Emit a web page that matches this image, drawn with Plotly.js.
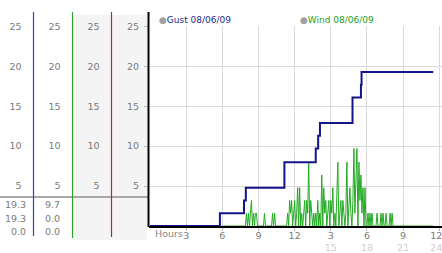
<!DOCTYPE html>
<html><head><meta charset="utf-8">
<script src="https://cdn.plot.ly/plotly-3.0.1.min.js"></script>
<style>html,body{margin:0;padding:0;background:#fff}#c{width:442px;height:253px}</style>
</head><body><div id="c"></div>
<script>
// ---- data ----
const seriesNames = ['Gust 08/06/09', 'Wind 08/06/09'];
const gustT = [0, 5.8, 7.8, 7.95, 11.15, 13.75, 13.95, 14.1, 16.8, 17.5, 17.55, 23.5];
const gustV = [0, 1.6, 3.2, 4.8, 8.0, 9.7, 11.3, 12.9, 16.1, 17.7, 19.3, 19.3];
const windStartHour = 6, windStepMinutes = 5, windEndHour = 23.5;
const windV = [
  0,0,0,0,0,0,0,0,0,0,
  0,0,0,0,0,0,0,0,0,0,
  0,0,0,0,1.6,0,1.6,0,1.6,3.2,
  0,1.6,0,1.6,1.6,0,0,0,0,0,
  0,0,1.6,0,0,0,0,0,0,0,
  1.6,0,1.6,0,0,0,0,0,0,0,
  0,0,0,0,0,1.6,0,3.2,1.6,3.2,
  0,1.6,3.2,0,1.6,4.8,0,4.8,0,1.6,
  0,1.6,3.2,0,3.2,1.6,8.0,0,3.2,1.6,
  0,1.6,0,1.6,0,3.2,0,1.6,0,6.4,
  0,4.8,1.6,3.2,0,1.6,3.2,0,3.2,1.6,
  4.8,0,1.6,0,3.2,8.0,0,1.6,3.2,0,
  3.2,1.6,0,1.6,8.0,0,3.2,4.8,1.6,0,
  3.2,9.7,1.6,4.8,9.7,0,8.0,3.2,6.4,1.6,
  4.8,0,4.8,0,0,1.6,0,1.6,0,1.6,
  0,0,0,0,1.6,0,0,0,1.6,0,
  1.6,0,0,1.6,0,0,0,1.6,0,1.6,
  0];
const windT = windV.map((v, i) => windStartHour + i * windStepMinutes / 60).concat([windEndHour]);
const windY = windV.concat([0]);
const yTicks = [5, 10, 15, 20, 25];
const xTicks = [3, 6, 9, 12, 15, 18, 21, 24];
const xTickTop = ['3', '6', '9', '12', '3', '6', '9', '12'];
const xTickBottom = ['', '', '', '', '15', '18', '21', '24'];
const gustStats = ['19.3', '19.3', '0.0'];
const windStats = ['9.7', '0.0', '0.0'];

// ---- layout helpers ----
const W = 442, H = 253;
const px = x => x / W, py = y => (H - y) / H;
const FONT = 'DejaVu Sans';
const labelGray = '#7a7a7a';

const ticktext = xTickTop.map((t, i) => {
  const pad = i === xTickTop.length - 1 ? '&nbsp;&nbsp;' : '';
  return xTickBottom[i] ? t + pad + '<br><span style="color:#d0d0d0">' + xTickBottom[i] + pad + '</span>' : t + pad;
});

const yDomain = [py(226), py(26)];
const yRange = [0, 25.05];
function colAxis(pos) {
  return {domain: yDomain, range: yRange, anchor: 'free', overlaying: 'y', position: pos, side: 'left',
    tickvals: yTicks, ticks: '', showgrid: false, showline: false, zeroline: false,
    ticklabelstandoff: 9, tickfont: {family: FONT, size: 9.5, color: labelGray}, fixedrange: true};
}

const traces = [
  {x: windT, y: windY, type: 'scatter', mode: 'lines', line: {color: '#22aa22', width: 1}, hoverinfo: 'skip', showlegend: false},
  {x: gustT, y: gustV, type: 'scatter', mode: 'lines', line: {color: '#14148a', width: 2, shape: 'hv'}, hoverinfo: 'skip', showlegend: false}
];
['y2', 'y3', 'y4'].forEach(ya => traces.push({x: [gustT[0]], y: [gustV[0]], yaxis: ya, type: 'scatter', mode: 'markers',
  marker: {opacity: 0, size: 1}, hoverinfo: 'skip', showlegend: false}));

const shapes = [
  {type: 'rect', xref: 'paper', yref: 'paper', x0: px(72.5), x1: px(147), y0: py(240), y1: py(15), fillcolor: '#f4f4f4', line: {width: 0}, layer: 'below'},
  {type: 'line', xref: 'paper', yref: 'paper', x0: 0, x1: px(149), y0: py(197), y1: py(197), line: {color: '#a8a8a8', width: 2}},
  {type: 'line', xref: 'paper', yref: 'paper', x0: px(33.5), x1: px(33.5), y0: py(236), y1: py(12), line: {color: '#2a4bb0', width: 1.2}},
  {type: 'line', xref: 'paper', yref: 'paper', x0: px(72.5), x1: px(72.5), y0: py(238), y1: py(12), line: {color: '#2fa02f', width: 1.2}},
  {type: 'line', xref: 'paper', yref: 'paper', x0: px(111.5), x1: px(111.5), y0: py(237), y1: py(12), line: {color: '#b82828', width: 1.2}},
  {type: 'line', xref: 'paper', yref: 'paper', x0: px(148.5), x1: px(148.5), y0: py(227), y1: py(12), line: {color: '#000', width: 2}}
];

const annotations = [];
const legendX = [157, 298], legendColors = ['#1c2a8c', '#22a022'];
seriesNames.forEach((n, i) => annotations.push({xref: 'paper', yref: 'paper', x: px(legendX[i]), y: py(20.5), xanchor: 'left', yanchor: 'middle', showarrow: false,
  text: '<span style="color:#a0a0a0">●</span>' + n, font: {family: FONT, size: 9, color: legendColors[i]}}));
const rowY = [204, 218, 231];
gustStats.forEach((s, i) => annotations.push({xref: 'paper', yref: 'paper', x: px(27.5), y: py(rowY[i]), xanchor: 'right', yanchor: 'middle', showarrow: false, text: s, font: {family: FONT, size: 9.5, color: labelGray}}));
windStats.forEach((s, i) => annotations.push({xref: 'paper', yref: 'paper', x: px(61.5), y: py(rowY[i]), xanchor: 'right', yanchor: 'middle', showarrow: false, text: s, font: {family: FONT, size: 9.5, color: labelGray}}));
annotations.push({xref: 'paper', yref: 'paper', x: px(153), y: py(233), xanchor: 'left', yanchor: 'middle', showarrow: false, text: 'Hours', font: {family: FONT, size: 9.5, color: '#888'}});

const layout = {
  width: W, height: H, margin: {l: 0, r: 0, t: 0, b: 0, pad: 0},
  paper_bgcolor: '#fff', plot_bgcolor: '#fff', showlegend: false,
  font: {family: FONT, size: 9.5, color: labelGray},
  xaxis: {domain: [px(149), 1], range: [-0.083, 24.224], tickvals: xTicks, ticktext: ticktext,
    ticks: 'outside', ticklen: 3, tickcolor: '#bbb', showgrid: true, gridcolor: '#dadada', gridwidth: 1,
    showline: true, linecolor: '#000', linewidth: 1.5, zeroline: false, ticklabeloverflow: 'allow',
    ticklabelstandoff: -3,
    tickfont: {family: FONT, size: 9.5, color: labelGray}, fixedrange: true},
  yaxis: {domain: yDomain, range: yRange, tickvals: yTicks, ticks: 'outside', ticklen: 4, tickcolor: '#bbb',
    showgrid: true, gridcolor: '#dadada', gridwidth: 1, showline: false, zeroline: false,
    ticklabelstandoff: 3, tickfont: {family: FONT, size: 9.5, color: labelGray}, fixedrange: true},
  yaxis2: colAxis(px(30.5)),
  yaxis3: colAxis(px(69.5)),
  yaxis4: colAxis(px(108.5)),
  shapes: shapes,
  annotations: annotations
};
Plotly.newPlot('c', traces, layout, {displayModeBar: false, staticPlot: true});
</script></body></html>
